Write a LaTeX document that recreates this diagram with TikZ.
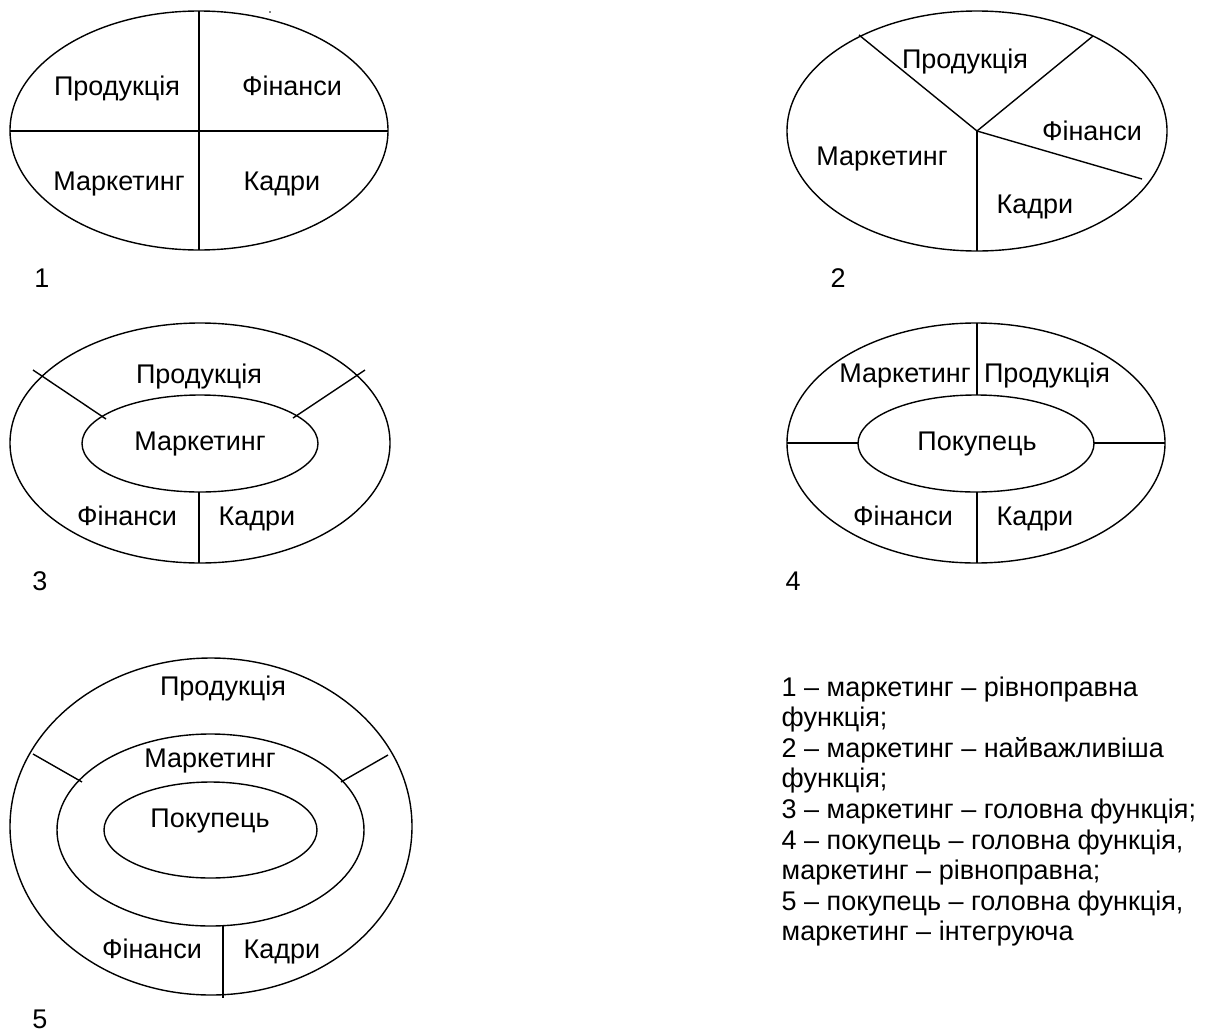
\documentclass[tikz,border=0pt]{standalone}
\usepackage{fontspec}
\setmainfont{Liberation Sans}
\begin{document}
\begin{tikzpicture}[x=1pt,y=-1pt,line width=1.4pt,
  lbl/.style={inner sep=0pt,anchor=base,font=\fontsize{27}{31}\selectfont},
  leg/.style={inner sep=0pt,anchor=base west,font=\fontsize{27}{31}\selectfont}]
\useasboundingbox (0,0) rectangle (1205,1034);
% ---------- diagram 1
\draw (199,130.5) ellipse [x radius=189pt,y radius=119.5pt];
\draw (199,11) -- (199,250);
\draw (10,131) -- (388,131);
\fill (270,12) circle (0.9pt);
\node[lbl] (d1p) at (117,95) {Продукція};
\node[lbl] (d1f) at (292,95) {Фінанси};
\node[lbl] (d1m) at (119,190) {Маркетинг};
\node[lbl] (d1k) at (282,190) {Кадри};
\node[lbl] (n1) at (42,287) {1};
% ---------- diagram 2
\coordinate (hub) at (977,131);
\draw (977,131) ellipse [x radius=190pt,y radius=120pt];
\draw (859,35) -- (hub) -- (1093,36);
\draw (hub) -- (1142,179);
\draw (hub) -- (977,251);
\node[lbl] (d2p) at (965,68) {Продукція};
\node[lbl] (d2f) at (1092,140) {Фінанси};
\node[lbl] (d2m) at (882,165) {Маркетинг};
\node[lbl] (d2k) at (1035,213) {Кадри};
\node[lbl] (n2) at (838,287) {2};
% ---------- diagram 3
\draw (200,443) ellipse [x radius=190pt,y radius=120pt];
\draw (200,443.5) ellipse [x radius=118pt,y radius=48.5pt];
\draw (33,370) -- (106,419);
\draw (365,370) -- (293,418);
\draw (199,492) -- (199,563);
\node[lbl] (d3p) at (199,383) {Продукція};
\node[lbl] (d3m) at (200,450) {Маркетинг};
\node[lbl] (d3f) at (127,525) {Фінанси};
\node[lbl] (d3k) at (257,525) {Кадри};
\node[lbl] (n3) at (40,590) {3};
% ---------- diagram 4
\draw (976,443) ellipse [x radius=189pt,y radius=120pt];
\draw (976,443.5) ellipse [x radius=118pt,y radius=48.5pt];
\draw (977,323) -- (977,395);
\draw (977,492) -- (977,563);
\draw (787,443) -- (858,443);
\draw (1094,443) -- (1165,443);
\node[lbl] (d4m) at (905,382) {Маркетинг};
\node[lbl] (d4p) at (1047,382) {Продукція};
\node[lbl] (d4c) at (977,450) {Покупець};
\node[lbl] (d4f) at (903,525) {Фінанси};
\node[lbl] (d4k) at (1035,525) {Кадри};
\node[lbl] (n4) at (793,590) {4};
% ---------- diagram 5
\draw (211,826.5) ellipse [x radius=201pt,y radius=168.5pt];
\draw (210.5,830) ellipse [x radius=153.5pt,y radius=96pt];
\draw (210.5,830) ellipse [x radius=106.5pt,y radius=48pt];
\draw (33,754) -- (82,782);
\draw (388,755) -- (341,782);
\draw (223,926) -- (223,998);
\node[lbl] (d5p) at (223,695) {Продукція};
\node[lbl] (d5m) at (210,767) {Маркетинг};
\node[lbl] (d5c) at (210,827) {Покупець};
\node[lbl] (d5f) at (152,958) {Фінанси};
\node[lbl] (d5k) at (282,958) {Кадри};
\node[lbl] (n5) at (40,1028) {5};
% ---------- legend
\node[leg] (l1) at (781,696) {1 – маркетинг – рівноправна};
\node[leg] (l2) at (781,726.6) {функція;};
\node[leg] (l3) at (781,757.2) {2 – маркетинг – найважливіша};
\node[leg] (l4) at (781,787.8) {функція;};
\node[leg] (l5) at (781,818.4) {3 – маркетинг – головна функція;};
\node[leg] (l6) at (781,849) {4 – покупець – головна функція,};
\node[leg] (l7) at (781,879.6) {маркетинг – рівноправна;};
\node[leg] (l8) at (781,910.2) {5 – покупець – головна функція,};
\node[leg] (l9) at (781,940.8) {маркетинг – інтегруюча};
\end{tikzpicture}
\end{document}
